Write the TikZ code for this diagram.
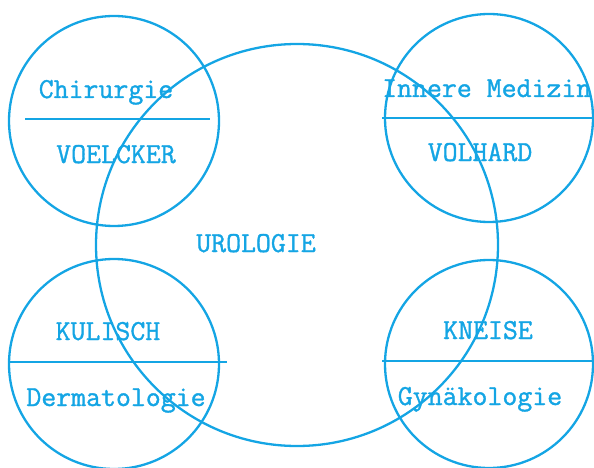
\documentclass[tikz,border=0pt]{standalone}
\usepackage{fontspec}
\newfontfamily\typew{Latin Modern Mono}[AutoFakeBold=1.2]
\definecolor{ink}{RGB}{20,165,228}

\begin{document}
\begin{tikzpicture}[x=1pt, y=-1pt,
    disc/.style={draw=ink, circle, line width=2.3pt, inner sep=0pt},
    fach/.style={text=ink, anchor=base, inner sep=0pt, font=\typew\bfseries\fontsize{29}{29}\selectfont},
    split/.style={draw=ink, line width=1.9pt}]
    \useasboundingbox (0,0) rectangle (594,468);

    % Kreise
    \node[disc, minimum size=402pt] (uro) at (297,245) {};
    \node[disc, minimum size=210pt] (chir) at (114,121) {};
    \node[disc, minimum size=208pt] (inn) at (489,118) {};
    \node[disc, minimum size=210pt] (kul) at (114,364) {};
    \node[disc, minimum size=208pt] (kne) at (489,364) {};

    % Trennlinien
    \coordinate (chirL) at (25,119);  \coordinate (chirR) at (210,119);
    \coordinate (innL) at (382,118);  \coordinate (innR) at (594,118);
    \coordinate (kulL) at (8,362);    \coordinate (kulR) at (227,362);
    \coordinate (kneL) at (382,361);  \coordinate (kneR) at (594,361);
    \draw[split] (chirL) -- (chirR);
    \draw[split] (innL) -- (innR);
    \draw[split] (kulL) -- (kulR);
    \draw[split] (kneL) -- (kneR);

    % Beschriftungen
    \node[fach] (tchir) at (106,98) {Chirurgie};
    \node[fach] (tvoe) at (116,163) {VOELCKER};
    \node[fach, anchor=base west] (tinn) at (382,97) {Innere Medizin};
    \node[fach] (tvol) at (480,161) {VOLHARD};
    \node[fach] (turo) at (256,252) {UROLOGIE};
    \node[fach] (tkul) at (108,340) {KULISCH};
    \node[fach] (tder) at (116,406) {Dermatologie};
    \node[fach] (tkne) at (488,339) {KNEISE};
    \node[fach] (tgyn) at (480,405) {Gynäkologie};
\end{tikzpicture}
\end{document}
